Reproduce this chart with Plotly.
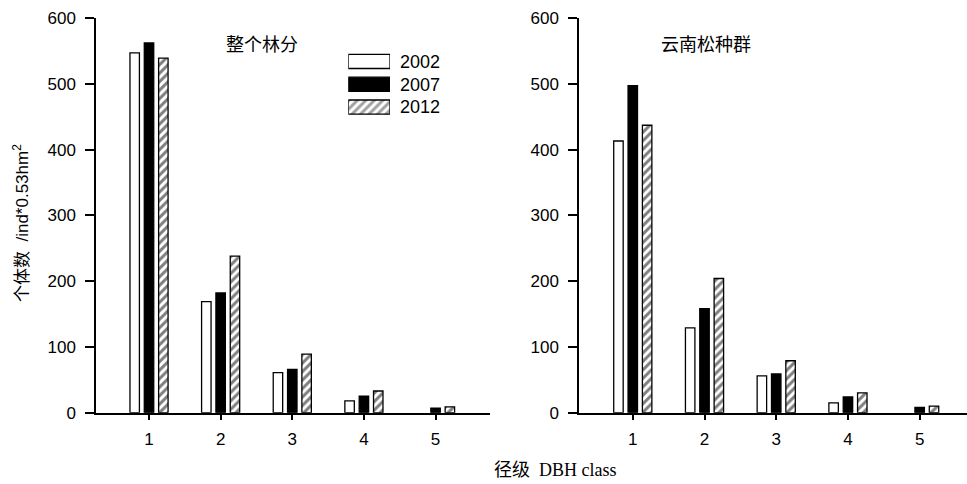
import plotly.graph_objects as go

classes = [1, 2, 3, 4, 5]
years = ["2002", "2007", "2012"]

# 整个林分 (whole stand)
stand_2002 = [547, 169, 61, 18, 0]
stand_2007 = [562, 182, 66, 25, 7]
stand_2012 = [539, 238, 89, 33, 9]

# 云南松种群 (Pinus yunnanensis population)
pine_2002 = [413, 129, 56, 15, 0]
pine_2007 = [497, 158, 59, 24, 8]
pine_2012 = [437, 204, 79, 30, 10]

y_ticks = [0, 100, 200, 300, 400, 500, 600]

W, H = 967, 484
def px(x):
    return x / W
def py(y):
    return 1 - y / H

fills = {"2002": "white", "2007": "black", "2012": "white"}
patterns = {"2002": "", "2007": "", "2012": "/"}
HATCH = dict(fgcolor="black", bgcolor="white", size=6, solidity=0.5)

def marker_for(yr, vals):
    return dict(
        color=fills[yr],
        line=dict(color="black", width=[1.3 if v > 0 else 0 for v in vals]),
        pattern=dict(shape=patterns[yr], **HATCH),
    )

fig = go.Figure()
for yr, vals in zip(years, [stand_2002, stand_2007, stand_2012]):
    fig.add_trace(go.Bar(x=classes, y=vals, name=yr, marker=marker_for(yr, vals),
                         xaxis="x", yaxis="y", showlegend=False))
for yr, vals in zip(years, [pine_2002, pine_2007, pine_2012]):
    fig.add_trace(go.Bar(x=classes, y=vals, name=yr, marker=marker_for(yr, vals),
                         xaxis="x2", yaxis="y2", showlegend=False))

# legend key (inset axis with one swatch per year)
legend_rows = [0, 1, 2]
fig.add_trace(go.Bar(
    x=[1] * len(years), y=legend_rows, orientation="h", width=[0.62] * len(years),
    marker=dict(color=[fills[y] for y in years],
                line=dict(color="black", width=1.3),
                pattern=dict(shape=[patterns[y] for y in years], **HATCH)),
    xaxis="x3", yaxis="y3", showlegend=False, hoverinfo="skip"))

tickfont = dict(family="Liberation Sans, Arial", size=17, color="black")
axis_common = dict(showgrid=False, zeroline=False, showline=True, linecolor="black",
                   linewidth=1.5, ticks="outside", tickcolor="black", tickwidth=1.5,
                   tickfont=tickfont, automargin=False)

fig.update_layout(
    width=W, height=H,
    margin=dict(l=0, r=0, t=0, b=0),
    paper_bgcolor="white", plot_bgcolor="white",
    barmode="group", bargap=0.4, bargroupgap=0.34,
    showlegend=False,
    xaxis=dict(domain=[px(96), px(490)], range=[0.26, 5.76], tickvals=classes,
               ticklen=6, anchor="y", ticklabelstandoff=4, **axis_common),
    yaxis=dict(domain=[py(412.7), py(18)], range=[0, 600], tickvals=y_ticks,
               ticklen=9, anchor="x", ticklabelstandoff=6, **axis_common),
    xaxis2=dict(domain=[px(579), 1.0], range=[0.25, 5.66], tickvals=classes,
                ticklen=6, anchor="y2", ticklabelstandoff=4, **axis_common),
    yaxis2=dict(domain=[py(412.7), py(18)], range=[0, 600], tickvals=y_ticks,
                ticklen=9, anchor="x2", ticklabelstandoff=6, **axis_common),
    xaxis3=dict(domain=[px(348.3), px(390)], range=[0, 1], visible=False,
                anchor="y3", automargin=False),
    yaxis3=dict(domain=[py(118.5), py(50)], range=[2.5, -0.5], anchor="x3",
                side="right", showline=False, showgrid=False, zeroline=False,
                ticks="", tickvals=legend_rows, ticktext=years,
                tickfont=dict(family="Liberation Sans, Arial", size=18, color="black"),
                ticklabelstandoff=9, automargin=False),
)

cjk = "Noto Sans CJK SC"
def note(x, y, text, font, angle=0):
    fig.add_annotation(x=px(x), y=py(y), xref="paper", yref="paper", text=text,
                       xanchor="center", yanchor="middle", textangle=angle,
                       showarrow=False, font=font)

note(262, 43, "整个林分", dict(family=cjk, size=18, color="black"))
note(706, 43, "云南松种群", dict(family=cjk, size=18, color="black"))
note(21, 223, "个体数  /ind*0.53hm<sup>2</sup>",
     dict(family="Liberation Sans, Arial, " + cjk, size=17, color="black"), angle=-90)
note(555, 470, "径级  DBH class",
     dict(family="Liberation Serif, Times New Roman, " + cjk, size=18, color="black"))

fig.write_html("out.html", config={"displayModeBar": False},
               post_script="document.body.style.margin='0';document.body.style.overflow='hidden';")
